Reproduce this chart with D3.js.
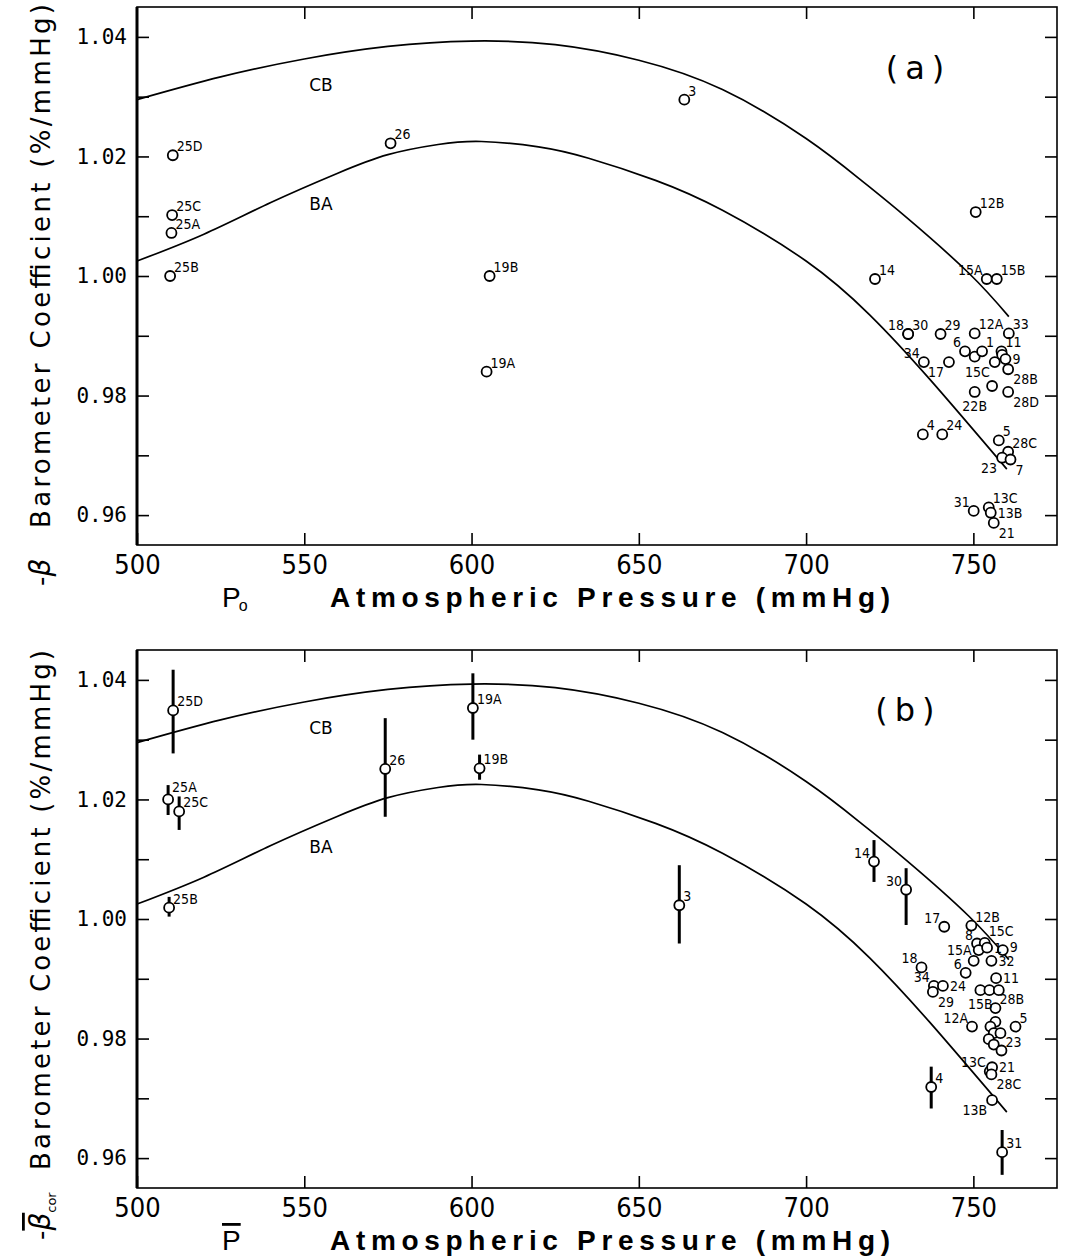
<!DOCTYPE html>
<html>
<head>
<meta charset="utf-8">
<script src="https://cdn.jsdelivr.net/npm/d3@7"></script>
<style>
  body { margin: 0; background: #fff; }
  text { fill: #000; }
</style>
</head>
<body>
<div id="chart"></div>
<script>

// Axis ticks
var pressureTicks = [500, 550, 600, 650, 700, 750];
var betaTicks = [0.96, 0.98, 1.00, 1.02, 1.04];
var betaMinorTicks = [0.97, 0.99, 1.01, 1.03];

// Model curves [pressure, coefficient]
var cbCurve = [
    [500, 1.0295], [525, 1.0333], [550, 1.0363], [575, 1.0384], [600, 1.0393],
    [625, 1.0387], [650, 1.0361], [675, 1.0312], [700, 1.0230], [716.5, 1.0160],
    [730, 1.0098], [748.6, 1.0005], [760.6, 0.9932]
];
var baCurve = [
    [500, 1.0025], [520, 1.0070], [540, 1.0123], [560, 1.0172], [575, 1.0203],
    [590, 1.0220], [603, 1.0225], [620, 1.0216], [635, 1.0197], [655, 1.0160],
    [675, 1.0110], [700, 1.0025], [719, 0.9935], [737, 0.9827], [760, 0.9677]
];

// Panel (a): station, pressure, -beta, label side
var stationsA = [
    ["25D", 510.7, 1.0202, "ur"], ["25C", 510.5, 1.0102, "ur"], ["25A", 510.3, 1.0072, "ur"],
    ["25B", 509.9, 1.0000, "ur"], ["26", 575.8, 1.0222, "ur"], ["3", 663.6, 1.0295, "ur"],
    ["19B", 605.4, 1.0000, "ur"], ["19A", 604.5, 0.9840, "ur"], ["14", 720.6, 0.9995, "ur"],
    ["12B", 750.7, 1.0107, "ur"], ["15A", 754.0, 0.9995, "ul"], ["15B", 757.0, 0.9995, "ur"],
    ["18", 730.5, 0.9903, "ul"], ["30", 730.5, 0.9903, "ur"], ["29", 740.2, 0.9903, "ur"],
    ["12A", 750.4, 0.9904, "ur"], ["33", 760.6, 0.9904, "ur"], ["6", 747.5, 0.9874, "ul"],
    ["", 750.4, 0.9865, ""], ["1", 752.6, 0.9874, "ur"], ["11", 758.4, 0.9874, "ur"],
    ["15C", 756.4, 0.9856, "bl"], ["", 758.6, 0.9868, ""], ["9", 759.6, 0.9861, "r"],
    ["28B", 760.4, 0.9844, "br"], ["34", 735.2, 0.9856, "ul"], ["17", 742.7, 0.9856, "bl"],
    ["", 755.6, 0.9816, ""], ["22B", 750.4, 0.9806, "b"], ["28D", 760.4, 0.9806, "br"],
    ["4", 734.9, 0.9735, "ur"], ["24", 740.7, 0.9735, "ur"], ["5", 757.6, 0.9725, "ur"],
    ["28C", 760.4, 0.9706, "ur"], ["23", 758.6, 0.9696, "bl"], ["7", 761.1, 0.9693, "br"],
    ["31", 750.1, 0.9607, "ul"], ["13C", 754.6, 0.9613, "ur"], ["13B", 755.2, 0.9604, "r"],
    ["21", 756.1, 0.9587, "br"]
];

// Panel (b): station, mean pressure, -beta_cor, error low, error high, label side
var stationsB = [
    ["25D", 510.8, 1.0349, 1.0277, 1.0417, "ur"], ["25A", 509.3, 1.0200, 1.0174, 1.0224, "uu"],
    ["25C", 512.6, 1.0180, 1.0149, 1.0205, "ur"], ["25B", 509.6, 1.0019, 1.0004, 1.0037, "ur"],
    ["26", 574.2, 1.0251, 1.0171, 1.0336, "ur"], ["19A", 600.4, 1.0353, 1.0300, 1.0411, "ur"],
    ["19B", 602.4, 1.0252, 1.0233, 1.0275, "ur"], ["3", 662.1, 1.0023, 0.9959, 1.0090, "ur"],
    ["14", 720.3, 1.0096, 1.0062, 1.0132, "ul"], ["30", 729.9, 1.0049, 0.9990, 1.0085, "ul"],
    ["17", 741.3, 0.9987, null, null, "ul"], ["12B", 749.4, 0.9989, null, null, "ur"],
    ["8", 751.1, 0.9959, null, null, "ul"], ["15C", 753.4, 0.9960, null, null, "uu"],
    ["15A", 751.6, 0.9948, null, null, "l"], ["1", 754.1, 0.9952, null, null, "r"],
    ["9", 758.8, 0.9948, null, null, "rt"], ["", 750.1, 0.9930, null, null, ""],
    ["32", 755.4, 0.9930, null, null, "r"], ["6", 747.7, 0.9910, null, null, "ul"],
    ["18", 734.5, 0.9919, null, null, "ul"], ["34", 738.2, 0.9888, null, null, "ul"],
    ["24", 740.9, 0.9888, null, null, "r"], ["29", 737.9, 0.9878, null, null, "br"],
    ["11", 756.8, 0.9901, null, null, "r"], ["15B", 752.1, 0.9881, null, null, "b"],
    ["", 754.8, 0.9881, null, null, ""], ["", 757.6, 0.9881, null, null, ""],
    ["28B", 756.6, 0.9851, null, null, "ur"], ["12A", 749.6, 0.9820, null, null, "ul"],
    ["", 756.6, 0.9828, null, null, ""], ["", 755.1, 0.9820, null, null, ""],
    ["", 756.1, 0.9809, null, null, ""], ["", 758.1, 0.9809, null, null, ""],
    ["", 754.6, 0.9799, null, null, ""], ["", 756.1, 0.9790, null, null, ""],
    ["23", 758.4, 0.9780, null, null, "ur"], ["5", 762.6, 0.9820, null, null, "ur"],
    ["13C", 754.9, 0.9745, null, null, "ul"], ["21", 755.6, 0.9752, null, null, "r"],
    ["28C", 755.4, 0.9740, null, null, "br"], ["13B", 755.6, 0.9697, null, null, "bl"],
    ["4", 737.4, 0.9719, 0.9683, 0.9753, "ur"], ["31", 758.6, 0.9610, 0.9572, 0.9647, "ur"]
];

var curveLabels = [["CB", 555, 1.032], ["BA", 555, 1.012]];

var W = 1067, H = 1259;
var svg = d3.select("#chart").append("svg").attr("width", W).attr("height", H);
svg.append("rect").attr("width", W).attr("height", H).attr("fill", "#fff");

var x = d3.scaleLinear().domain([500, 775]).range([137, 1057]);

// label side -> [dx, dy, anchor]
var labelOffsets = {
    ur: [4, -4, "start"], uu: [4, -7, "start"], ul: [-4, -4, "end"],
    r: [7, 5, "start"], rt: [7, 2, "start"], l: [-7, 5, "end"],
    br: [5, 15, "start"], bl: [-5, 15, "end"], b: [0, 19, "middle"]
};

function drawPanel(top, bottom, opts) {

    var y = d3.scaleLinear().domain([0.955, 1.045]).range([bottom, top]);
    var g = svg.append("g");

    // ticks, inward on all four sides
    g.append("g").attr("transform", "translate(137,0)")
        .call(d3.axisLeft(y).tickValues(betaTicks).tickSize(-12).tickPadding(10)
            .tickFormat(d3.format(".2f")))
        .call(function(s) {
            s.selectAll("text").attr("font-family", "DejaVu Sans Mono").attr("font-size", 21);
        });
    g.append("g").attr("transform", "translate(137,0)")
        .call(d3.axisLeft(y).tickValues(betaMinorTicks).tickSize(-12).tickFormat(""));
    g.append("g").attr("transform", "translate(1057,0)")
        .call(d3.axisRight(y).tickValues(betaTicks.concat(betaMinorTicks)).tickSize(-12).tickFormat(""));
    g.append("g").attr("transform", "translate(0," + bottom + ")")
        .call(d3.axisBottom(x).tickValues(pressureTicks).tickSize(-12).tickPadding(10))
        .call(function(s) {
            s.selectAll("text").attr("font-family", "DejaVu Sans Condensed").attr("font-size", 27)
                .attr("dy", "0.71em");
        });
    g.append("g").attr("transform", "translate(0," + top + ")")
        .call(d3.axisTop(x).tickValues(pressureTicks.slice(1)).tickSize(-12).tickFormat(""));

    g.selectAll(".domain").remove();
    g.selectAll(".tick line").attr("stroke", "#000").attr("stroke-width", 1.6);

    // frame
    g.append("rect").attr("x", 137).attr("y", top).attr("width", 920).attr("height", bottom - top)
        .attr("fill", "none").attr("stroke", "#000").attr("stroke-width", 1.6);
    g.append("line").attr("x1", 137).attr("x2", 137).attr("y1", top).attr("y2", bottom)
        .attr("stroke", "#000").attr("stroke-width", 3);

    // curves
    var line = d3.line().x(function(d) { return x(d[0]); }).y(function(d) { return y(d[1]); })
        .curve(d3.curveNatural);
    [cbCurve, baCurve].forEach(function(c) {
        g.append("path").attr("d", line(c)).attr("fill", "none")
            .attr("stroke", "#000").attr("stroke-width", 1.7);
    });
    curveLabels.forEach(function(c) {
        g.append("text").attr("x", x(c[1])).attr("y", y(c[2])).attr("dy", "0.35em")
            .attr("text-anchor", "middle").attr("font-family", "DejaVu Sans")
            .attr("font-size", 17).text(c[0]);
    });

    // error bars
    opts.points.filter(function(d) { return d.lo != null; }).forEach(function(d) {
        g.append("line").attr("x1", x(d.p)).attr("x2", x(d.p))
            .attr("y1", y(d.lo)).attr("y2", y(d.hi))
            .attr("stroke", "#000").attr("stroke-width", 3);
    });

    // points
    g.selectAll("circle.pt").data(opts.points).enter().append("circle")
        .attr("class", "pt")
        .attr("cx", function(d) { return x(d.p); })
        .attr("cy", function(d) { return y(d.b); })
        .attr("r", 5)
        .attr("fill", "#fff").attr("stroke", "#000").attr("stroke-width", 1.8);

    g.selectAll("text.lab").data(opts.points.filter(function(d) { return d.id; }))
        .enter().append("text").attr("class", "lab")
        .attr("x", function(d) { return x(d.p) + labelOffsets[d.pos][0]; })
        .attr("y", function(d) { return y(d.b) + labelOffsets[d.pos][1]; })
        .attr("text-anchor", function(d) { return labelOffsets[d.pos][2]; })
        .attr("font-family", "DejaVu Sans Condensed")
        .attr("font-size", opts.labelSize)
        .text(function(d) { return d.id; });

    // panel letter
    g.append("text").attr("x", x(opts.letterAt[0])).attr("y", y(opts.letterAt[1]))
        .attr("dy", "0.35em").attr("text-anchor", "middle")
        .attr("font-family", "DejaVu Sans").attr("font-size", 32)
        .attr("letter-spacing", 7).text(opts.letter);

    // x title
    var xt = g.append("text").attr("x", 222).attr("y", bottom + 62)
        .attr("font-family", "Liberation Sans").attr("font-size", 28);
    opts.xSymbol(xt);
    g.append("text").attr("x", 330).attr("y", bottom + 62)
        .attr("font-family", "Liberation Sans").attr("font-weight", "bold").attr("font-size", 28)
        .attr("textLength", 560).attr("lengthAdjust", "spacing")
        .text("Atmospheric Pressure (mmHg)");

    // y title
    var yg = g.append("g").attr("transform", "translate(50," + opts.yStart + ") rotate(-90)");
    var ys = yg.append("text").attr("x", 0).attr("y", 0)
        .attr("font-family", "DejaVu Sans").attr("font-size", 26);
    opts.ySymbol(ys);
    yg.append("text").attr("x", opts.yTextOffset).attr("y", 0)
        .attr("font-family", "DejaVu Sans").attr("font-size", 26)
        .attr("textLength", opts.yTextLength).attr("lengthAdjust", "spacing")
        .text("Barometer Coefficient (%/mmHg)");
}

function asPoints(rows, withErr) {
    return rows.map(function(r) {
        return withErr
            ? { id: r[0], p: r[1], b: r[2], lo: r[3], hi: r[4], pos: r[5] }
            : { id: r[0], p: r[1], b: r[2], lo: null, hi: null, pos: r[3] };
    });
}

drawPanel(7, 545, {
    points: asPoints(stationsA, false),
    labelSize: 14,
    letter: "(a)",
    letterAt: [733.6, 1.0348],
    xSymbol: function(t) {
        t.append("tspan").text("P");
        t.append("tspan").attr("font-size", 16).attr("dy", 4).attr("dx", -2).text("o");
    },
    yStart: 586,
    yTextOffset: 58,
    yTextLength: 524,
    ySymbol: function(t) {
        t.append("tspan").text("-");
        t.append("tspan").attr("font-style", "italic").attr("font-size", 28).text("β");
    }
});

drawPanel(650, 1188, {
    points: asPoints(stationsB, true),
    labelSize: 14,
    letter: "(b)",
    letterAt: [730.6, 1.035],
    xSymbol: function(t) {
        t.append("tspan").attr("text-decoration", "overline").text("P");
    },
    yStart: 1240,
    yTextOffset: 70,
    yTextLength: 520,
    ySymbol: function(t) {
        t.append("tspan").text("-");
        t.append("tspan").attr("font-style", "italic").attr("font-size", 28)
            .attr("text-decoration", "overline").text("β");
        t.append("tspan").attr("font-size", 13).attr("dy", 6).text("cor");
    }
});

</script>
</body>
</html>
